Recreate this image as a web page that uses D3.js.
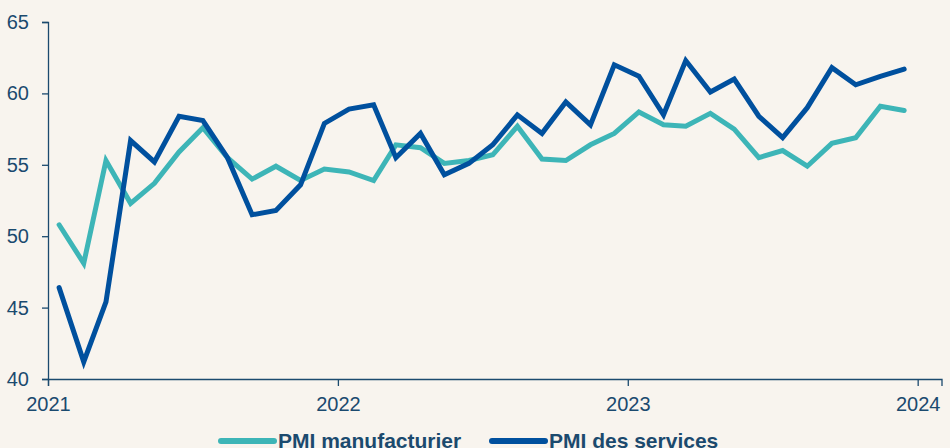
<!DOCTYPE html>
<html>
<head>
<meta charset="utf-8">
<script src="https://cdn.jsdelivr.net/npm/d3@7"></script>
<style>
  html, body { margin: 0; padding: 0; background: #f8f4ee; }
  svg { display: block; font-family: "Liberation Sans", Arial, sans-serif; }
</style>
</head>
<body>
<svg id="chart" width="950" height="448"></svg>
<script>
// monthly PMI, Jan 2021 - Dec 2023
var years = [2021, 2022, 2023, 2024];
var yTicks = [40, 45, 50, 55, 60, 65];

var manufacturier = [
  50.8, 48.1, 55.3, 52.3, 53.7, 55.9, 57.6, 55.5, 54.0, 54.9, 53.9, 54.7,
  54.5, 53.9, 56.4, 56.2, 55.1, 55.3, 55.7, 57.7, 55.4, 55.3, 56.4, 57.2,
  58.7, 57.8, 57.7, 58.6, 57.5, 55.5, 56.0, 54.9, 56.5, 56.9, 59.1, 58.8
];
var services = [
  46.4, 41.2, 45.4, 56.7, 55.2, 58.4, 58.1, 55.5, 51.5, 51.8, 53.6, 57.9,
  58.9, 59.2, 55.5, 57.2, 54.3, 55.1, 56.4, 58.5, 57.2, 59.4, 57.8, 62.0,
  61.2, 58.5, 62.3, 60.1, 61.0, 58.4, 56.9, 59.0, 61.8, 60.6, 61.2, 61.7
];

var seriesNames = ['PMI manufacturier', 'PMI des services'];
var colors = ['#3db5b7', '#00509e'];
var textColor = '#1b4a6e';

var svg = d3.select('#chart');

var x = d3.scaleTime()
  .domain([new Date(2021, 0, 1), new Date(2024, 0, 31)])
  .range([48, 941.5]);

var y = d3.scaleLinear()
  .domain([40, 65])
  .range([379, 22]);

function monthDate(i) {
  return new Date(2021, i, 15);
}

// y axis
var yAxis = svg.append('g')
  .attr('transform', 'translate(48,0)')
  .call(d3.axisLeft(y).tickValues(yTicks).tickSize(6).tickPadding(13));

// x axis
var xAxis = svg.append('g')
  .attr('transform', 'translate(0,379)')
  .call(d3.axisBottom(x)
    .tickValues(years.map(function(yr) { return new Date(yr, 0, 1); }))
    .tickFormat(d3.timeFormat('%Y'))
    .tickSize(7).tickPadding(11));

svg.selectAll('.domain, .tick line')
  .attr('stroke', textColor)
  .attr('stroke-width', 1.3);
svg.selectAll('.tick text')
  .attr('fill', textColor)
  .style('font-size', '20px');
xAxis.selectAll('.tick text').attr('dy', '0.71em');

var line = d3.line()
  .x(function(d, i) { return x(monthDate(i)); })
  .y(function(d) { return y(d); });

[manufacturier, services].forEach(function(vals, k) {
  svg.append('path')
    .datum(vals)
    .attr('fill', 'none')
    .attr('stroke', colors[k])
    .attr('stroke-width', 5)
    .attr('stroke-linejoin', 'miter')
    .attr('stroke-linecap', 'round')
    .attr('d', line);
});

// legend
var legendX = [221, 492];
var legend = svg.selectAll('g.legend')
  .data(seriesNames)
  .enter().append('g')
  .classed('legend', true)
  .attr('transform', function(d, i) { return 'translate(' + legendX[i] + ',441)'; });

legend.append('line')
  .attr('x1', 0).attr('x2', 53)
  .attr('stroke', function(d, i) { return colors[i]; })
  .attr('stroke-width', 6)
  .attr('stroke-linecap', 'round');

legend.append('text')
  .attr('x', 57)
  .attr('y', 6.5)
  .attr('fill', textColor)
  .style('font-size', '21px')
  .style('font-weight', 'bold')
  .text(function(d) { return d; });
</script>
</body>
</html>
